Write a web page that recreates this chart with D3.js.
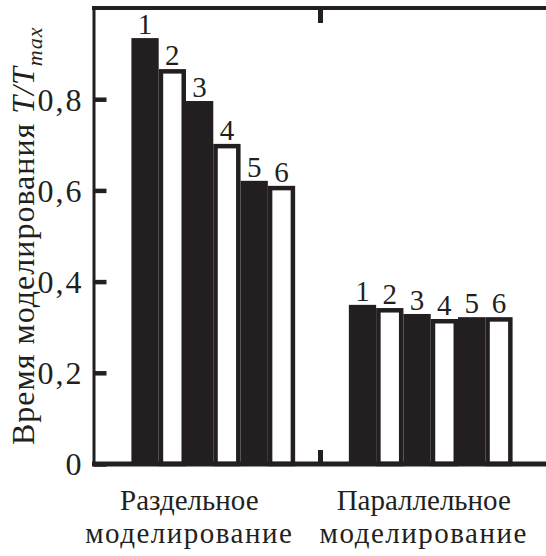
<!DOCTYPE html>
<html>
<head>
<meta charset="utf-8">
<script src="https://cdn.jsdelivr.net/npm/d3@7"></script>
<style>
  body { margin: 0; background: #fff; }
  svg { display: block; }
  svg text, svg tspan { font-family: "Liberation Serif", Tinos, "Times New Roman", serif; }
</style>
</head>
<body>
<svg id="chart" width="546" height="556" font-family="Liberation Serif"></svg>
<script>
// ---- data ----
const groups = ["Раздельное моделирование", "Параллельное моделирование"];
const groupLines = [["Раздельное", "моделирование"], ["Параллельное", "моделирование"]];
const series = ["1", "2", "3", "4", "5", "6"];
const separateValues = [0.934, 0.866, 0.796, 0.702, 0.621, 0.610];
const parallelValues = [0.349, 0.342, 0.329, 0.318, 0.322, 0.322];
const yTicks = [0, 0.2, 0.4, 0.6, 0.8];

const valuesByGroup = [separateValues, parallelValues];
const dark = "#231f20";

const svg = d3.select("#chart");
const y = d3.scaleLinear().domain([0, 1]).range([464, 8]);
const x = d3.scaleBand().domain(groups).range([94, 550]).paddingInner(0.247).paddingOuter(0.172);
const xi = d3.scaleBand().domain(series).range([0, x.bandwidth()]);

function styleText(sel, size) {
  return sel.attr("font-family", "Liberation Serif").attr("font-size", size).attr("fill", dark);
}

// bars
groups.forEach((g, gi) => {
  const gEl = svg.append("g").attr("transform", `translate(${x(g)},0)`);
  series.forEach((s, si) => {
    const v = valuesByGroup[gi][si];
    const bx = xi(s), bw = xi.bandwidth();
    if (si % 2 === 0) {
      gEl.append("rect").attr("x", bx).attr("y", y(v))
        .attr("width", bw).attr("height", y(0) - y(v)).attr("fill", dark);
    } else {
      const sw = 4.5;
      gEl.append("rect").attr("x", bx + sw / 2).attr("y", y(v) + sw / 2)
        .attr("width", bw - sw).attr("height", y(0) - y(v) - sw / 2)
        .attr("fill", "#fff").attr("stroke", dark).attr("stroke-width", sw);
    }
    styleText(gEl.append("text").attr("x", bx + bw / 2).attr("y", y(v) - 4)
      .attr("text-anchor", "middle"), 29).text(s);
  });
});

// left axis with inward ticks
const yAxis = d3.axisLeft(y).tickValues(yTicks).tickSize(-13).tickSizeOuter(0).tickPadding(10)
  .tickFormat(d => d === 0 ? "0" : d3.format(".1f")(d).replace(".", ","));
const ag = svg.append("g").attr("transform", "translate(93.5,0)").call(yAxis);
ag.attr("font-family", "Liberation Serif");
ag.select(".domain").attr("stroke", dark).attr("stroke-width", 3);
ag.selectAll(".tick line").attr("stroke", dark).attr("stroke-width", 4.5);
styleText(ag.selectAll(".tick text"), 32).attr("dy", "0.34em").attr("letter-spacing", 2);

// frame top and bottom
svg.append("line").attr("x1", 92).attr("x2", 546).attr("y1", y(1)).attr("y2", y(1))
  .attr("stroke", dark).attr("stroke-width", 4);
svg.append("line").attr("x1", 92).attr("x2", 546).attr("y1", y(0)).attr("y2", y(0))
  .attr("stroke", dark).attr("stroke-width", 5);

// separator ticks between groups
const sepX = (x(groups[0]) + x.bandwidth() + x(groups[1])) / 2 - 1.5;
svg.append("line").attr("x1", sepX).attr("x2", sepX).attr("y1", y(1)).attr("y2", y(1) + 15)
  .attr("stroke", dark).attr("stroke-width", 5);
svg.append("line").attr("x1", sepX).attr("x2", sepX).attr("y1", y(0)).attr("y2", y(0) - 14)
  .attr("stroke", dark).attr("stroke-width", 5);

// category labels
const labelOffsets = [-24, -7];
const lineSpacing = [0, 1.5];
groups.forEach((g, gi) => {
  const cx = x(g) + x.bandwidth() / 2 + labelOffsets[gi];
  const t = styleText(svg.append("text").attr("text-anchor", "middle"), 29);
  groupLines[gi].forEach((ln, li) => {
    t.append("tspan").attr("x", cx).attr("y", 510 + li * 33)
      .attr("letter-spacing", lineSpacing[li]).text(ln);
  });
});

// y title
const yt = styleText(svg.append("text").attr("transform", "translate(34,445) rotate(-90)")
  .attr("text-anchor", "start").attr("letter-spacing", 1), 32);
yt.append("tspan").text("Время моделирования ");
yt.append("tspan").attr("font-style", "italic").text("T/T");
yt.append("tspan").attr("font-style", "italic").attr("font-size", 22).attr("dy", 8).text("max");
</script>
</body>
</html>
